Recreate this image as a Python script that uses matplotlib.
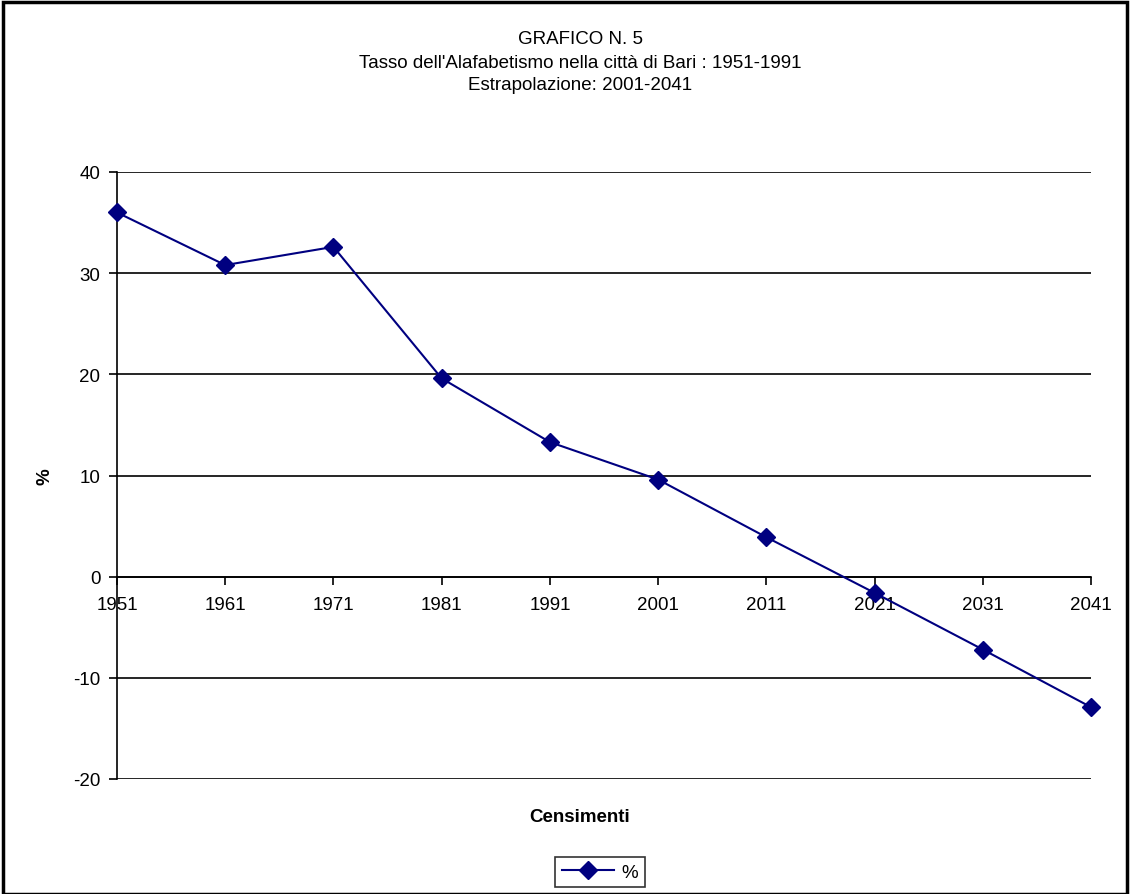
import numpy as np
import matplotlib.pyplot as plt
from matplotlib.patches import Rectangle

plt.rcParams['font.family'] = ['Liberation Sans', 'DejaVu Sans']
plt.rcParams['axes.unicode_minus'] = False

# Census years and literacy rate (%)
anni = [1951, 1961, 1971, 1981, 1991, 2001, 2011, 2021, 2031, 2041]
tasso = [36.0, 30.8, 32.6, 19.6, 13.3, 9.6, 3.9, -1.6, -7.2, -12.9]
y_ticks = [-20, -10, 0, 10, 20, 30, 40]

fig = plt.figure(figsize=(11.3, 8.95), dpi=100)
ax = fig.add_axes([117 / 1130, 1 - 780 / 895, (1091 - 117) / 1130, (780 - 173) / 895])

x = np.arange(len(anni))
ax.plot(x, tasso, color='#000080', linewidth=1.5, marker='D', markersize=9.5, label='%',
        clip_on=False, zorder=5)

ax.set_xlim(0, len(anni) - 1)
ax.set_ylim(-20, 40)
ax.set_yticks(y_ticks)
ax.set_xticks(x)
ax.set_xticklabels([str(a) for a in anni])
ax.grid(axis='y', color='black', linewidth=1.2)
ax.set_axisbelow(True)

ax.spines['top'].set_visible(False)
ax.spines['right'].set_visible(False)
ax.spines['bottom'].set_position(('data', 0))
ax.spines['left'].set_linewidth(1.2)
ax.spines['bottom'].set_linewidth(1.2)
ax.tick_params(axis='both', direction='out', length=6, width=1.2, labelsize=13.5)
ax.tick_params(axis='x', pad=8)
ax.tick_params(axis='y', pad=6)

fig.text(45 / 1130, 1 - 477 / 895, '%', fontsize=13.5, fontweight='bold',
         ha='center', va='center', rotation=90)
fig.text(580 / 1130, 1 - 818 / 895, 'Censimenti', fontsize=13.5, fontweight='bold',
         ha='center', va='center')

fig.text(580 / 1130, 1 - 40 / 895, 'GRAFICO N. 5', fontsize=13.5, ha='center', va='center')
fig.text(580 / 1130, 1 - 63 / 895, "Tasso dell'Alafabetismo nella città di Bari : 1951-1991",
         fontsize=13.5, ha='center', va='center')
fig.text(580 / 1130, 1 - 86 / 895, 'Estrapolazione: 2001-2041', fontsize=13.5,
         ha='center', va='center')

leg = fig.legend(loc='center', bbox_to_anchor=(600 / 1130, 1 - 873 / 895), fontsize=13.5,
                 frameon=True, fancybox=False, edgecolor='black', borderpad=0.35,
                 handlelength=2.8, handletextpad=0.4)
leg.get_frame().set_linewidth(1.2)

fig.patches.append(Rectangle((3 / 1130, 0), 1124 / 1130, 1 - 3 / 895, transform=fig.transFigure,
                             fill=False, edgecolor='black', linewidth=2.5))

fig.savefig('out.png', dpi=100)
